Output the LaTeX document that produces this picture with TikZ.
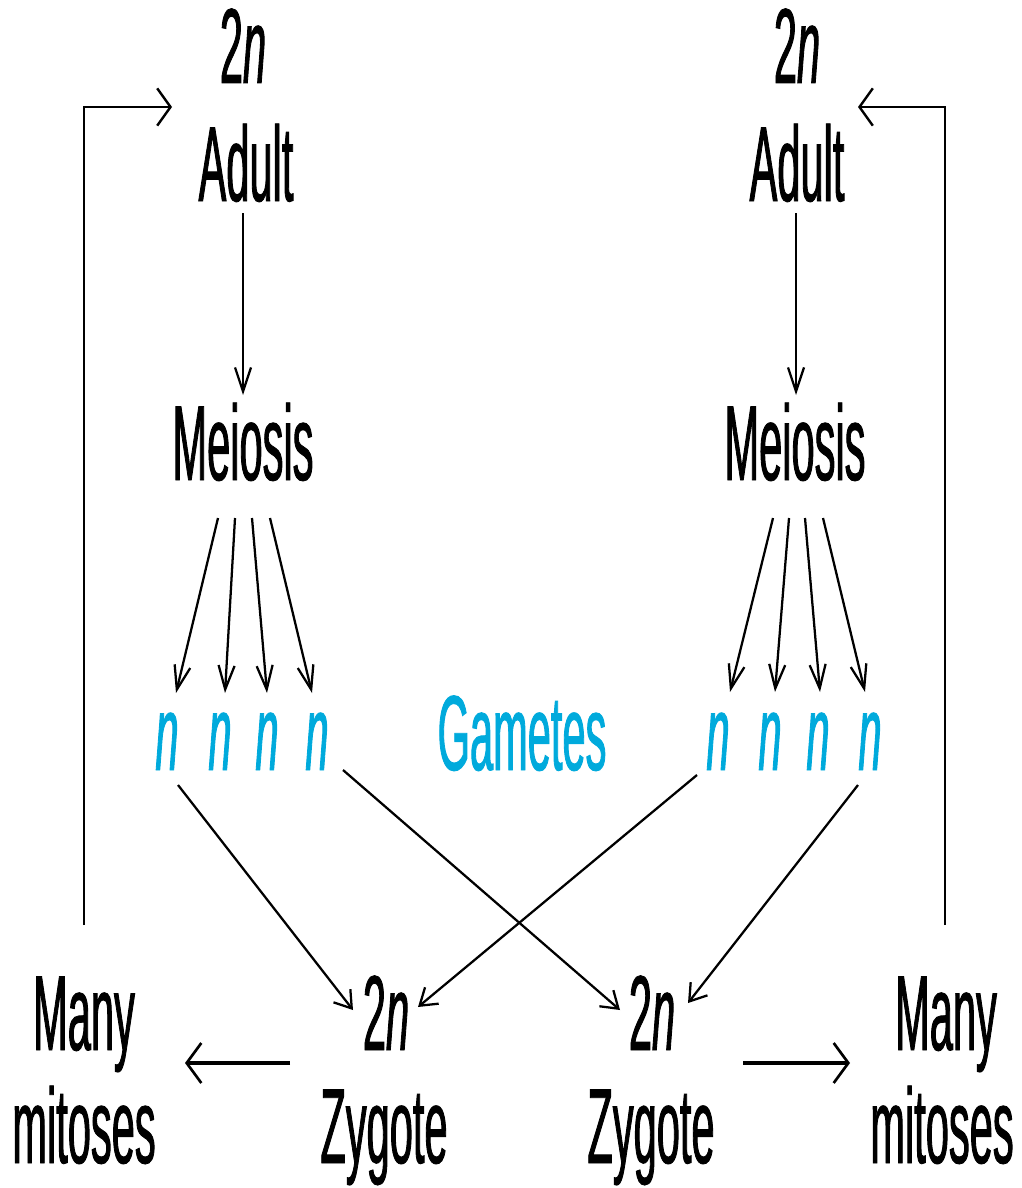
\documentclass[tikz,border=0pt]{standalone}
\usepackage{fontspec}
\setmainfont{Liberation Sans}[FakeStretch=0.39,FakeBold=0.8]
\usetikzlibrary{arrows.meta,calc}
\definecolor{gam}{RGB}{0,170,220}
\begin{document}
\begin{tikzpicture}[x=0.75pt,y=-0.75pt,
  lbl/.style={inner sep=0pt,anchor=base,font=\fontsize{80}{84}\selectfont},
  gm/.style={lbl,text=gam},
  arrV/.style={line width=1.7pt,-{Straight Barb[length=18pt,width=12pt,line width=1.7pt]}},
  arrD/.style={line width=1.7pt,-{Straight Barb[length=12pt,width=16pt,line width=1.7pt]}},
  arrH/.style={line width=2pt,-{Straight Barb[length=10pt,width=28pt,line width=1.8pt]}},
  arrB/.style={line width=2.6pt,-{Straight Barb[length=11pt,width=30pt,line width=2pt]}}]
\useasboundingbox (0,0) rectangle (1021,1188);
% left column
\node[lbl] (L2n) at (243,83) {2\textit{n}};
\node[lbl] (LAdult) at (246,201) {Adult};
\node[lbl] (LMei) at (243,480) {Meiosis};
\node[gm] (Ln1) at (167,770) {\textit{n}};
\node[gm] (Ln2) at (220,770) {\textit{n}};
\node[gm] (Ln3) at (267,770) {\textit{n}};
\node[gm] (Ln4) at (317,770) {\textit{n}};
\node[gm] (Gam) at (522,770) {Gametes};
% right column
\node[lbl] (R2n) at (797,83) {2\textit{n}};
\node[lbl] (RAdult) at (797,201) {Adult};
\node[lbl] (RMei) at (795,480) {Meiosis};
\node[gm] (Rn1) at (718,770) {\textit{n}};
\node[gm] (Rn2) at (770,770) {\textit{n}};
\node[gm] (Rn3) at (818,770) {\textit{n}};
\node[gm] (Rn4) at (870,770) {\textit{n}};
% bottom
\node[lbl] (LZ2n) at (386,1050) {2\textit{n}};
\node[lbl] (LZyg) at (384,1163) {Zygote};
\node[lbl] (RZ2n) at (652,1050) {2\textit{n}};
\node[lbl] (RZyg) at (651,1163) {Zygote};
\node[lbl] (LMany) at (84,1050) {Many};
\node[lbl] (LMit) at (84,1163) {mitoses};
\node[lbl] (RMany) at (946,1050) {Many};
\node[lbl] (RMit) at (942,1163) {mitoses};
% adult -> meiosis
\draw[arrV] ($(LAdult.base)+(-3,12)$) -- ($(LMei.base)+(0,-85)$);
\draw[arrV] ($(RAdult.base)+(-1,12)$) -- ($(RMei.base)+(1,-85)$);
% meiosis -> gametes
\draw[arrV] ($(LMei.base)+(-25,38)$) -- ($(Ln1.base)+(9,-77)$);
\draw[arrV] ($(LMei.base)+(-8,38)$) -- ($(Ln2.base)+(5,-77)$);
\draw[arrV] ($(LMei.base)+(9,38)$) -- ($(Ln3.base)+(0,-77)$);
\draw[arrV] ($(LMei.base)+(27,38)$) -- ($(Ln4.base)+(-5,-77)$);
\draw[arrV] ($(RMei.base)+(-22,38)$) -- ($(Rn1.base)+(12,-78)$);
\draw[arrV] ($(RMei.base)+(-6,38)$) -- ($(Rn2.base)+(5,-78)$);
\draw[arrV] ($(RMei.base)+(10,38)$) -- ($(Rn3.base)+(2,-78)$);
\draw[arrV] ($(RMei.base)+(28,38)$) -- ($(Rn4.base)+(-5,-78)$);
% gametes -> zygotes
\draw[arrD] ($(Ln1.base)+(11,15)$) -- ($(LZ2n.base)+(-33,-40)$);
\draw[arrD] ($(Ln4.base)+(26,0)$) -- ($(RZ2n.base)+(-32,-40)$);
\draw[arrD] ($(Rn1.base)+(-21,5)$) -- ($(LZ2n.base)+(32,-43)$);
\draw[arrD] ($(Rn4.base)+(-12,15)$) -- ($(RZ2n.base)+(36,-47)$);
% zygote -> mitoses
\draw[arrB] ($(LZyg.base)+(-94,-100)$) -- ($(LMany.base)+(101,13)$);
\draw[arrB] ($(RZyg.base)+(92,-100)$) -- ($(RMany.base)+(-96,13)$);
% loops back to adult
\draw[arrH] ($(LMany.base)+(0,-125)$) |- ($(LAdult.base)+(-74,-94)$);
\draw[arrH] ($(RMany.base)+(-1,-125)$) |- ($(RAdult.base)+(61,-94)$);
\end{tikzpicture}
\end{document}
